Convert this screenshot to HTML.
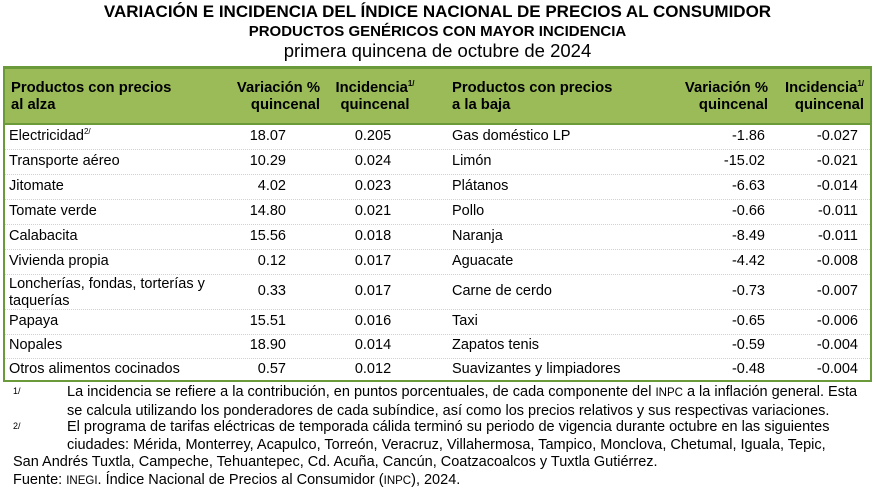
<!DOCTYPE html>
<html><head><meta charset="utf-8"><style>
body{margin:0;width:875px;height:493px;background:#fff;font-family:"Liberation Sans",sans-serif;color:#000;position:relative;overflow:hidden}
.t{position:absolute;white-space:nowrap}
.c{position:absolute;left:0;width:875px;text-align:center;white-space:nowrap}
#box{position:absolute;left:3px;top:66px;width:865px;height:311px;border:2px solid #6a9a3a;border-top-width:3px}
#hd{position:absolute;left:5px;top:69px;width:865px;height:54px;background:#9bbb59;border-bottom:2px solid #6a9a3a}
.h{font-weight:bold;font-size:14.8px;line-height:17px;position:absolute;white-space:nowrap}
.r{font-size:14.5px;position:absolute;white-space:nowrap}
.sep{position:absolute;left:5px;width:865px;border-top:1px dotted #c8dcb0}
sup{font-size:8px;line-height:0;vertical-align:6px}
.f{font-size:14.5px;position:absolute;white-space:nowrap;line-height:17.5px}
</style></head><body>
<div class="c" style="top:2px;font-weight:bold;font-size:17px">VARIACIÓN E INCIDENCIA DEL ÍNDICE NACIONAL DE PRECIOS AL CONSUMIDOR</div>
<div class="c" style="top:23px;font-weight:bold;font-size:15px">PRODUCTOS GENÉRICOS CON MAYOR INCIDENCIA</div>
<div class="c" style="top:40px;font-size:18.5px">primera quincena de octubre de 2024</div>
<div id="box"></div><div id="hd"></div>
<div class="h" style="left:11px;top:80px">Productos con precios<br>al alza</div>
<div class="h" style="left:200px;width:120px;text-align:right;top:80px">Variación %<br>quincenal</div>
<div class="h" style="left:330px;width:90px;text-align:center;top:80px">Incidencia<sup>1/</sup><br>quincenal</div>
<div class="h" style="left:452px;top:80px">Productos con precios<br>a la baja</div>
<div class="h" style="left:640px;width:128px;text-align:right;top:80px">Variación %<br>quincenal</div>
<div class="h" style="left:770px;width:94px;text-align:right;top:80px">Incidencia<sup>1/</sup><br>quincenal</div>
<div id="rows"></div>
<script>
var d=[["Electricidad<sup>2/</sup>","18.07","0.205","Gas doméstico LP","-1.86","-0.027"],
["Transporte aéreo","10.29","0.024","Limón","-15.02","-0.021"],
["Jitomate","4.02","0.023","Plátanos","-6.63","-0.014"],
["Tomate verde","14.80","0.021","Pollo","-0.66","-0.011"],
["Calabacita","15.56","0.018","Naranja","-8.49","-0.011"],
["Vivienda propia","0.12","0.017","Aguacate","-4.42","-0.008"],
["Loncherías, fondas, torterías y<br>taquerías","0.33","0.017","Carne de cerdo","-0.73","-0.007"],
["Papaya","15.51","0.016","Taxi","-0.65","-0.006"],
["Nopales","18.90","0.014","Zapatos tenis","-0.59","-0.004"],
["Otros alimentos cocinados","0.57","0.012","Suavizantes y limpiadores","-0.48","-0.004"]];
var tops=[125,149,174,199,224,249,274,309,334,358],h="";
d.forEach(function(r,i){var t=tops[i],nt=(i<9?tops[i+1]:382),c=(t+nt)/2-9;
var lt=i==6?t+2:c;
h+='<div class="r" style="left:9px;top:'+lt+'px;line-height:17px">'+r[0]+'</div>';
h+='<div class="r" style="left:200px;width:86px;text-align:right;top:'+c+'px">'+r[1]+'</div>';
h+='<div class="r" style="left:330px;width:86px;text-align:center;top:'+c+'px">'+r[2]+'</div>';
h+='<div class="r" style="left:452px;top:'+c+'px">'+r[3]+'</div>';
h+='<div class="r" style="left:640px;width:125px;text-align:right;top:'+c+'px">'+r[4]+'</div>';
h+='<div class="r" style="left:770px;width:88px;text-align:right;top:'+c+'px">'+r[5]+'</div>';
if(i>0)h+='<div class="sep" style="top:'+t+'px"></div>';});
document.getElementById("rows").innerHTML=h;
</script>
<div class="t" style="left:13px;top:386px;font-size:9px">1/</div>
<div class="f" style="left:67px;top:384px">La incidencia se refiere a la contribución, en puntos porcentuales, de cada componente del <span style="font-size:11.5px">INPC</span> a la inflación general. Esta<br>se calcula utilizando los ponderadores de cada subíndice, así como los precios relativos y sus respectivas variaciones.</div>
<div class="t" style="left:13px;top:421px;font-size:9px">2/</div>
<div class="f" style="left:67px;top:419px">El programa de tarifas eléctricas de temporada cálida terminó su periodo de vigencia durante octubre en las siguientes<br>ciudades: Mérida, Monterrey, Acapulco, Torreón, Veracruz, Villahermosa, Tampico, Monclova, Chetumal, Iguala, Tepic,</div>
<div class="f" style="left:13px;top:454px">San Andrés Tuxtla, Campeche, Tehuantepec, Cd. Acuña, Cancún, Coatzacoalcos y Tuxtla Gutiérrez.<br>Fuente: <span style="font-size:11.5px">INEGI</span>. Índice Nacional de Precios al Consumidor (<span style="font-size:11.5px">INPC</span>), 2024.</div>
</body></html>
